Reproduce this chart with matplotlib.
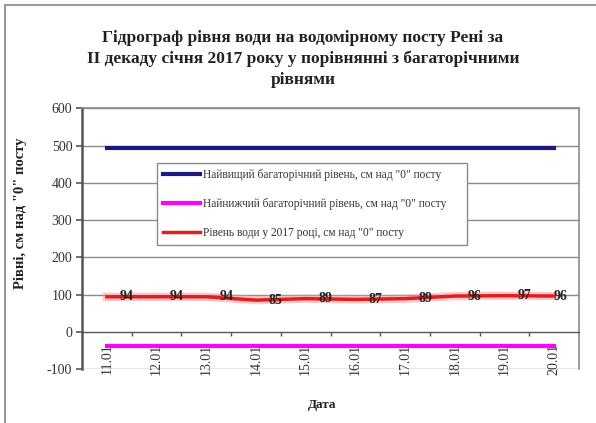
import numpy as np
import matplotlib
matplotlib.use("Agg")
import matplotlib.pyplot as plt
from matplotlib.lines import Line2D

plt.rcParams['font.family'] = ['Liberation Serif', 'DejaVu Serif']
plt.rcParams['axes.unicode_minus'] = False

# дати другої декади січня
dates = ['11.01', '12.01', '13.01', '14.01', '15.01',
         '16.01', '17.01', '18.01', '19.01', '20.01']
level_2017 = [94, 94, 94, 85, 89, 87, 89, 96, 97, 96]
level_max = [493] * len(dates)
level_min = [-39] * len(dates)

lbl_max = 'Найвищий багаторічний рівень, см над "0" посту'
lbl_min = 'Найнижчий багаторічний рівень, см над "0" посту'
lbl_2017 = 'Рівень води у 2017 році, см над "0" посту'

fig = plt.figure(figsize=(5.96, 4.23), dpi=100)
ax = fig.add_axes([0.1376, 0.1277, 0.8339, 0.6158])

x = np.arange(len(dates))
ax.plot(x, level_max, color='#1a1a80', lw=3, label=lbl_max, zorder=3)
ax.plot(x, level_min, color='#ff00ff', lw=3, label=lbl_min, zorder=3)
ax.plot(x, level_2017, color='#ff9090', lw=6, alpha=0.5, zorder=3)
ax.plot(x, level_2017, color='#e02020', lw=2.5, label=lbl_2017, zorder=4)

# підписи значень
for i, v in enumerate(level_2017):
    dx = 0.4 if i < len(dates) - 1 else 0.12
    ax.text(i + dx, v, str(v), ha='center', va='center', fontsize=10,
            fontweight='bold', color='#222222', zorder=5)

ax.set_xlim(-0.5, len(dates) - 0.5)
ax.set_ylim(-100, 600)
ax.set_yticks(np.arange(-100, 601, 100))
ax.yaxis.grid(True, color='#8a8a8a', lw=1)
ax.set_axisbelow(True)
ax.tick_params(axis='y', labelsize=10, labelcolor='#333333', length=4,
               width=1.2, color='#555555', pad=3)

# вісь дат проходить через нуль
ax.spines['bottom'].set_position(('data', 0))
ax.spines['bottom'].set_color('#555555')
ax.set_xticks(x[:-1] + 0.5)
ax.set_xticklabels([])
ax.tick_params(axis='x', length=3, color='#555555', width=1)
for i, d in enumerate(dates):
    ax.text(i, -32, d, rotation=90, ha='center', va='top', fontsize=10,
            color='#333333', zorder=5)

ax.spines['left'].set_color('#555555')
ax.spines['left'].set_linewidth(1.8)
for s in ['top', 'right']:
    ax.spines[s].set_color('#8a8a8a')
    ax.spines[s].set_linewidth(1.2)

leg = ax.legend(loc='upper left', bbox_to_anchor=(0.151, 0.468, 0.624, 0.323),
                mode='expand', fontsize=8.3, frameon=True, fancybox=False,
                edgecolor='#8a8a8a', framealpha=1, labelspacing=1.45,
                handlelength=3.2, handletextpad=0.2, borderpad=0.55,
                borderaxespad=0)
leg.get_frame().set_linewidth(1)
for t in leg.get_texts():
    t.set_color('#333333')

fig.text(0.508, 1 - 59 / 423,
         'Гідрограф рівня води на водомірному посту Рені за\n'
         'ІІ декаду січня 2017 року у порівнянні з багаторічними\n'
         'рівнями',
         ha='center', va='center', fontsize=12.5, fontweight='bold',
         linespacing=1.4, color='#222222')
fig.text(20 / 596, 1 - 213 / 423, 'Рівні, см над "0" посту', rotation=90,
         ha='center', va='center', fontsize=10.5, fontweight='bold',
         color='#222222')
fig.text(322 / 596, 1 - 405 / 423, 'Дата', ha='center', va='center',
         fontsize=9.5, fontweight='bold', color='#222222')

# рамка діаграми
fig.add_artist(Line2D([5 / 596, 1], [1 - 5 / 423, 1 - 5 / 423],
                      transform=fig.transFigure, color='#999999', lw=1.5))
fig.add_artist(Line2D([5 / 596, 5 / 596], [0, 1 - 5 / 423],
                      transform=fig.transFigure, color='#999999', lw=1.5))

fig.savefig('out.png', dpi=100)
